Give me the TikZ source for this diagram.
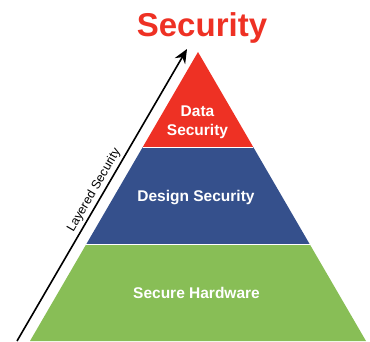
\documentclass[tikz,border=0pt]{standalone}
\usepackage{fontspec}
\setmainfont{Liberation Sans}
\usetikzlibrary{calc,arrows.meta}

\definecolor{secred}{HTML}{EE3124}
\definecolor{secblue}{HTML}{35508C}
\definecolor{secgreen}{HTML}{88BE56}

\tikzset{
	layertext/.style={text=white,font=\fontsize{15.5}{18.6}\selectfont\bfseries,align=center,anchor=base},
	gap/.style={draw=white,line width=1.5pt}
}

\begin{document}
\begin{tikzpicture}[x=1pt,y=1pt]
	
	\useasboundingbox (0,0) rectangle (370,341);
	
	\coordinate (apex) at (198,289);
	\coordinate (bl) at (30,0);
	\coordinate (br) at (366,0);
	\coordinate (l1) at ($(apex)!0.33!(bl)$);
	\coordinate (r1) at ($(apex)!0.33!(br)$);
	\coordinate (l2) at ($(apex)!0.666!(bl)$);
	\coordinate (r2) at ($(apex)!0.666!(br)$);
	
	\fill[secred] (apex) -- (r1) -- (l1) -- cycle;
	\fill[secblue] (l1) -- (r1) -- (r2) -- (l2) -- cycle;
	\fill[secgreen] (l2) -- (r2) -- (br) -- (bl) -- cycle;
	\draw[gap] (l1) -- (r1);
	\draw[gap] (l2) -- (r2);
	
	\node[layertext] (data) at (197.5,206) {Data\\Security};
	\node[layertext] (design) at (196,140) {Design Security};
	\node[layertext] (hardware) at (196.5,43) {Secure Hardware};
	
	\node[anchor=base,text=secred,font=\fontsize{33}{40}\selectfont\bfseries] (title) at (202,305) {Security};
	
	\coordinate (astart) at (17,0);
	\coordinate (aend) at (187,292);
	\draw[line width=1.6pt,-{Stealth[length=14pt,width=12pt]}] (astart) -- (aend)
		node[pos=0.5,sloped,above,inner sep=2.5pt,font=\fontsize{12.5}{15}\selectfont] (layered) {Layered Security};
	
\end{tikzpicture}
\end{document}
